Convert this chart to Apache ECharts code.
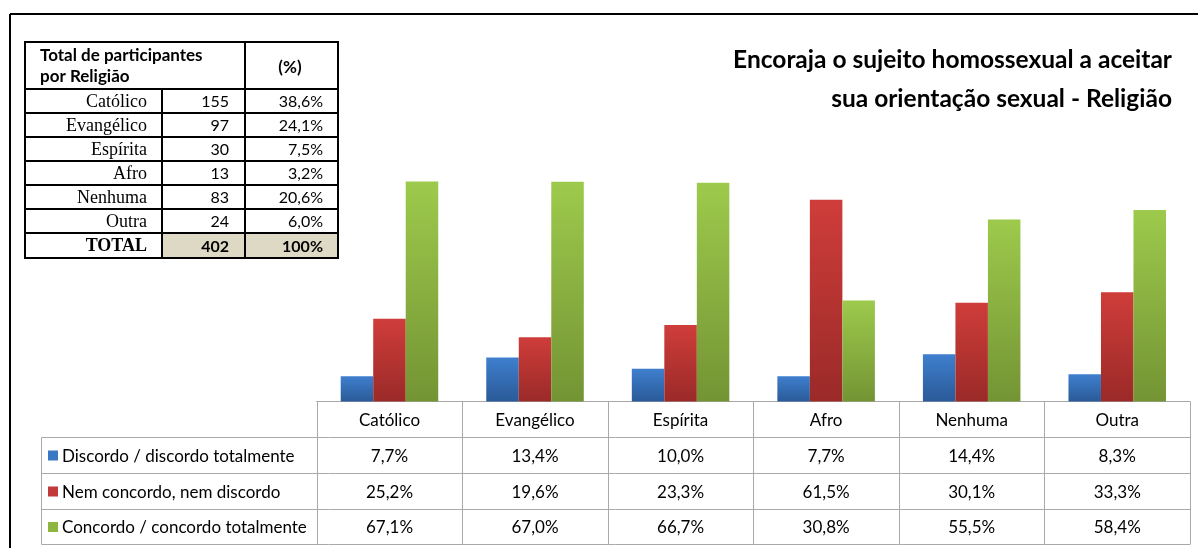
<!DOCTYPE html>
<html>
<head>
<meta charset="utf-8">
<script src="https://cdn.jsdelivr.net/npm/echarts@6/dist/echarts.min.js"></script>
<style>
  html, body { margin: 0; padding: 0; background: #fff; }
  #box { width: 1198px; height: 548px; }
</style>
</head>
<body>
<div id="box"></div>
<script>
// dados do gráfico
const categorias = ['Católico', 'Evangélico', 'Espírita', 'Afro', 'Nenhuma', 'Outra'];
const nomesSeries = ['Discordo / discordo totalmente', 'Nem concordo, nem discordo', 'Concordo / concordo totalmente'];
const discordo = [7.7, 13.4, 10.0, 7.7, 14.4, 8.3];
const nemNem = [25.2, 19.6, 23.3, 61.5, 30.1, 33.3];
const concordo = [67.1, 67.0, 66.7, 30.8, 55.5, 58.4];

// tabela de participantes
const religioes = ['Católico', 'Evangélico', 'Espírita', 'Afro', 'Nenhuma', 'Outra'];
const participantes = [155, 97, 30, 13, 83, 24];
const percentuais = [38.6, 24.1, 7.5, 3.2, 20.6, 6.0];
const totalParticipantes = 402;
const totalPercentual = '100%';

const titulo = ['Encoraja o sujeito homossexual a aceitar', 'sua orientação sexual - Religião'];

const cores = [
  ['#3f7fce', '#2a5a98'],
  ['#cf3d3a', '#9a2a28'],
  ['#9dca4c', '#749434']
];
const coresLegenda = ['#3b78c3', '#c1393a', '#8cb640'];

const fmt = v => v.toFixed(1).replace('.', ',') + '%';
const calibri = 'Lato, "Open Sans", sans-serif';
const serif = '"Liberation Serif", "DejaVu Serif", serif';

const chartDom = document.getElementById('box');
const myChart = echarts.init(chartDom);

const grad = c => new echarts.graphic.LinearGradient(0, 0, 0, 1, [
  { offset: 0, color: c[0] }, { offset: 1, color: c[1] }
]);

const seriesData = [discordo, nemNem, concordo];

var option = {
  animation: false,
  grid: { left: 316.7, right: 8, top: 73.5, bottom: 146.5 },
  xAxis: {
    type: 'category',
    data: categorias,
    axisLine: { lineStyle: { color: '#a8a8a8', width: 1 } },
    axisTick: { show: false },
    axisLabel: { show: false }
  },
  yAxis: {
    type: 'value',
    min: 0,
    max: 100,
    show: false,
    splitLine: { show: false }
  },
  series: seriesData.map((d, i) => ({
    name: nomesSeries[i],
    type: 'bar',
    data: d,
    barGap: '0%',
    barCategoryGap: '33%',
    itemStyle: {
      color: grad(cores[i]),
      shadowColor: 'rgba(0,0,0,0.25)',
      shadowBlur: 3,
      shadowOffsetX: 1
    }
  }))
};
myChart.setOption(option);

// elementos gráficos: moldura, título, tabelas
const g = [];
const line = (x1, y1, x2, y2, stroke, w) => g.push({
  type: 'line', silent: true,
  shape: { x1, y1, x2, y2 },
  style: { stroke, lineWidth: w }
});
const text = (x, y, s, font, align) => g.push({
  type: 'text', silent: true, x, y,
  style: { text: s, font, fill: '#000', align: align || 'center', verticalAlign: 'middle' }
});

// moldura
line(10, 14, 1198, 14, '#000', 2);
line(10, 14, 10, 548, '#000', 2);

// título
text(1172, 60, titulo[0], 'bold 24.5px ' + calibri, 'right');
text(1172, 99, titulo[1], 'bold 24.5px ' + calibri, 'right');

// tabela de dados abaixo do gráfico
const half = (myChart.convertToPixel({ xAxisIndex: 0 }, categorias[1]) -
  myChart.convertToPixel({ xAxisIndex: 0 }, categorias[0])) / 2;
const centros = categorias.map(c => myChart.convertToPixel({ xAxisIndex: 0 }, c));
const tx0 = 41.5, tx2 = centros[centros.length - 1] + half;
const rowsY = [401.5, 437.5, 473.5, 509.5, 544.5];
const cinza = '#aaaaaa';
line(tx0, rowsY[1], tx2, rowsY[1], cinza, 1);
line(tx0, rowsY[2], tx2, rowsY[2], cinza, 1);
line(tx0, rowsY[3], tx2, rowsY[3], cinza, 1);
line(tx0, rowsY[4], tx2, rowsY[4], cinza, 1);
line(tx0, rowsY[1], tx0, rowsY[4], cinza, 1);
centros.forEach(c => line(Math.round(c - half) + 0.5, rowsY[0], Math.round(c - half) + 0.5, rowsY[4], cinza, 1));
line(Math.round(tx2) + 0.5, rowsY[0], Math.round(tx2) + 0.5, rowsY[4], cinza, 1);

categorias.forEach((c, i) => text(centros[i], (rowsY[0] + rowsY[1]) / 2 + 1, c, '17px ' + calibri));
seriesData.forEach((d, r) => {
  const yc = (rowsY[r + 1] + rowsY[r + 2]) / 2 + 1;
  d.forEach((v, i) => text(centros[i], yc, fmt(v), '17px ' + calibri));
  g.push({
    type: 'rect', silent: true,
    shape: { x: 48, y: yc - 6, width: 10, height: 10 },
    style: { fill: coresLegenda[r] }
  });
  text(62, yc, nomesSeries[r], '17px ' + calibri, 'left');
});

// tabela de participantes (canto superior esquerdo)
const L = 25, C1 = 162, C2 = 245, R = 338;
const hTop = 42, hBot = 89;
const linhas = [89, 113, 137, 161, 185, 209, 233, 258];
// células de total em bege
g.push({ type: 'rect', silent: true, shape: { x: C1, y: linhas[6], width: R - C1, height: linhas[7] - linhas[6] }, style: { fill: '#ddd9c4' } });
line(L, hTop, R, hTop, '#000', 2);
linhas.forEach(y => line(L, y, R, y, '#000', 2));
line(L, hTop - 1, L, linhas[7] + 1, '#000', 2);
line(R, hTop - 1, R, linhas[7] + 1, '#000', 2);
line(C2, hTop - 1, C2, linhas[7] + 1, '#000', 2);
line(C1, hBot, C1, linhas[7] + 1, '#000', 2);

text(40, 56, 'Total de participantes', 'bold 17px ' + calibri, 'left');
text(40, 77, 'por Religião', 'bold 17px ' + calibri, 'left');
text(290, 68, '(%)', 'bold 17px ' + calibri);
religioes.forEach((r, i) => {
  const yc = (linhas[i] + linhas[i + 1]) / 2 + 1;
  text(147, yc, r, '18px ' + serif, 'right');
  text(229, yc, String(participantes[i]), '16px ' + calibri, 'right');
  text(323, yc, fmt(percentuais[i]), '16px ' + calibri, 'right');
});
const yt = (linhas[6] + linhas[7]) / 2 + 1;
text(147, yt, 'TOTAL', 'bold 18px ' + serif, 'right');
text(229, yt, String(totalParticipantes), 'bold 16px ' + calibri, 'right');
text(323, yt, totalPercentual, 'bold 16px ' + calibri, 'right');

myChart.setOption({ graphic: { elements: g } });

window.addEventListener('resize', function () {
  if (myChart) {
    myChart.resize();
  }
});
</script>
</body>
</html>
